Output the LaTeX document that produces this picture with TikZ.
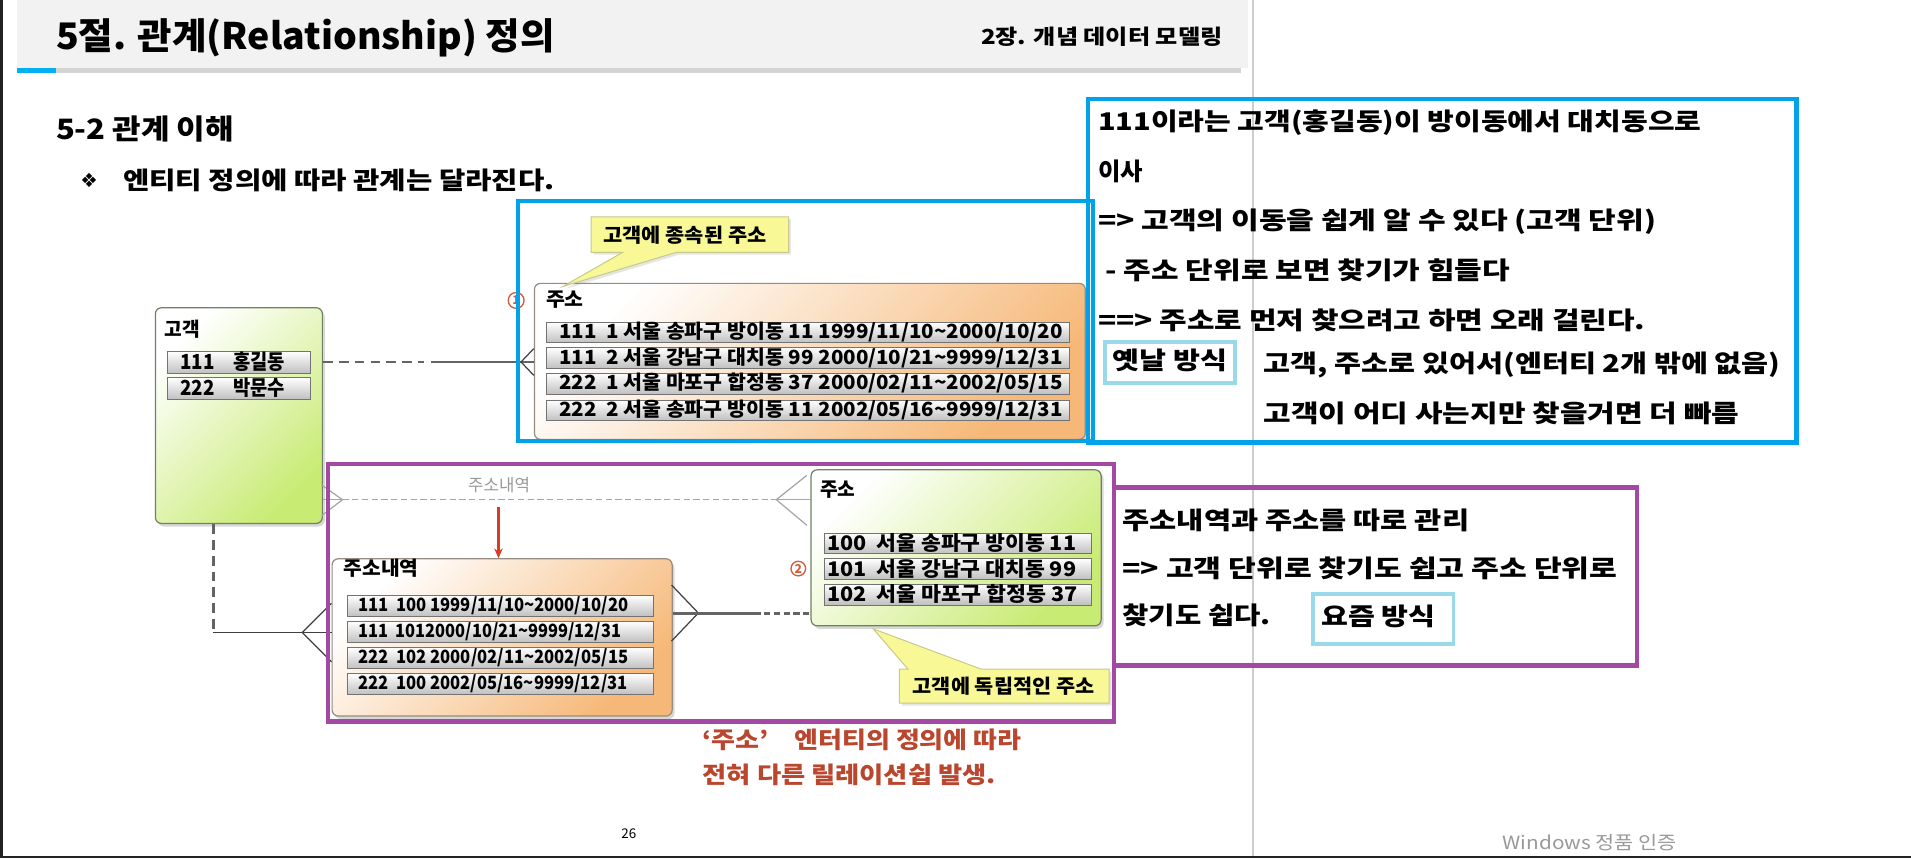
\documentclass[tikz,border=0pt]{standalone}
\usepackage{fontspec}
\usepackage{graphicx}
\setmainfont{Noto Sans CJK KR}
\newfontfamily\djv{DejaVu Sans}
\usetikzlibrary{shadows,arrows.meta}
\newcommand\fitw[2]{\resizebox{#1pt}{\height}{#2}}
\newcommand\fsz[1]{\fontsize{#1pt}{#1pt}\selectfont}
\definecolor{frameblue}{RGB}{0,162,232}
\definecolor{framepurple}{RGB}{163,73,164}
\definecolor{tagblue}{RGB}{153,217,234}
\definecolor{capred}{RGB}{185,70,45}
\definecolor{numred}{RGB}{215,90,60}
\definecolor{arrred}{RGB}{215,60,40}
\definecolor{greenfill}{RGB}{200,235,115}
\definecolor{greenline}{RGB}{110,130,100}
\definecolor{orangefill}{RGB}{246,184,120}
\definecolor{orangeline}{RGB}{150,140,130}
\definecolor{callfill}{RGB}{248,248,150}
\definecolor{callline}{RGB}{200,200,140}
\definecolor{headgray}{RGB}{242,242,242}
\definecolor{bargray}{RGB}{212,212,212}
\definecolor{barblue}{RGB}{0,176,240}
\definecolor{linkgray}{RGB}{100,100,100}
\definecolor{sepgray}{RGB}{205,205,205}
\definecolor{darkedge}{RGB}{34,34,34}
\begin{document}
\begin{tikzpicture}[x=1pt,y=-1pt,
  txt/.style={anchor=west,inner sep=0pt,outer sep=0pt},
  entbox/.style={draw=#1,line width=1pt,rounded corners=5pt,anchor=north west,inner sep=0pt,
     drop shadow={shadow xshift=2pt,shadow yshift=-2.5pt,opacity=0.25,fill=black!60}},
  greenent/.style={entbox=greenline,top color=white,bottom color=greenfill,shading angle=45},
  orangeent/.style={entbox=orangeline,top color=white,bottom color=orangefill,shading angle=45},
  rowbox/.style={draw=black!55,line width=0.7pt,top color=white,bottom color=black!25,anchor=north west,inner sep=0pt,minimum height=17pt},
  rowtxt/.style={txt,font=\bfseries\fsz{15}},
  lbl/.style={txt,font=\bfseries\fsz{16}},
  note/.style={txt,font=\bfseries\fsz{20}},
  frame/.style={line width=3.5pt},
  tag/.style={draw=tagblue,line width=3pt,anchor=north west,inner sep=0pt},
  calloutshape/.style={fill=callfill,draw=callline,line width=0.8pt,drop shadow={shadow xshift=2pt,shadow yshift=-2pt,opacity=0.2}},
  link/.style={draw=linkgray,line width=2.4pt},
  linkdash/.style={link,dash pattern=on 8pt off 5pt},
  foot/.style={draw=black!75,line width=1pt},
  faint/.style={draw=black!35,line width=1pt},
  circnum/.style={circle,draw=numred,line width=1.1pt,text=numred,inner sep=0pt,minimum size=#1,font=\bfseries\fsz{10}},
]
\useasboundingbox (0,0) rectangle (1568,704);
% page
\fill[white] (0,0) rectangle (1568,704);
\fill[headgray] (14,0) rectangle (1024,56);
\fill[barblue] (14,56) rectangle (46,60);
\fill[bargray] (46,56) rectangle (1018,60);
\draw[sepgray,line width=1.5pt] (1028,0) -- (1028,702);
\fill[darkedge] (0,0) rectangle (2.5,704);
\fill[darkedge] (0,702) rectangle (1568,704);

% header texts
\node[txt,font=\bfseries\fsz{30}] (title) at (46,31) {\fitw{409}{5절. 관계(Relationship) 정의}};
\node[txt,font=\bfseries\fsz{17}] (chap) at (805,30) {\fitw{198}{2장. 개념 데이터 모델링}};
\node[txt,font=\bfseries\fsz{23}] (sec) at (46,106) {\fitw{146}{5-2 관계 이해}};
\node[txt,font=\djv\fsz{16}] (bul) at (66,148) {❖};
\node[txt,font=\bfseries\fsz{20}] (sub) at (101,148) {\fitw{354}{엔티티 정의에 따라 관계는 달라진다.}};

% customer entity
\node[greenent,minimum width=137pt,minimum height=177pt] (cust) at (127,252) {};
\node[lbl] (custl) at (135,270) {\fitw{29}{고객}};
\node[rowbox,minimum width=117pt,minimum height=18pt] (cr1) at (137,288) {};
\node[rowbox,minimum width=117pt,minimum height=18pt] (cr2) at (137,309.5) {};
\node[rowtxt,font=\bfseries\fsz{17}] (ct1) at (148,297) {\fitw{86}{111\quad 홍길동}};
\node[rowtxt,font=\bfseries\fsz{17}] (ct2) at (148,318.5) {\fitw{86}{222\quad 박문수}};

% address entity (case 1)
\node[orangeent,minimum width=452pt,minimum height=128pt] (addr1) at (438,232) {};
\node[lbl] (addr1l) at (448,246) {\fitw{31}{주소}};
\node[rowbox,minimum width=429pt] (ar1) at (448,264) {};
\node[rowbox,minimum width=429pt] (ar2) at (448,285) {};
\node[rowbox,minimum width=429pt] (ar3) at (448,306) {};
\node[rowbox,minimum width=429pt] (ar4) at (448,328) {};
\node[rowtxt,font=\bfseries\fsz{16}] (at1) at (459,272.5) {\fitw{413}{111\ \ 1 서울 송파구 방이동 11 1999/11/10\textasciitilde 2000/10/20}};
\node[rowtxt,font=\bfseries\fsz{16}] (at2) at (459,293.5) {\fitw{413}{111\ \ 2 서울 강남구 대치동 99 2000/10/21\textasciitilde 9999/12/31}};
\node[rowtxt,font=\bfseries\fsz{16}] (at3) at (459,314.5) {\fitw{413}{222\ \ 1 서울 마포구 합정동 37 2000/02/11\textasciitilde 2002/05/15}};
\node[rowtxt,font=\bfseries\fsz{16}] (at4) at (459,336.5) {\fitw{413}{222\ \ 2 서울 송파구 방이동 11 2002/05/16\textasciitilde 9999/12/31}};
\node[circnum=13pt] (n1) at (423.5,246.5) {1};

% callout 1
\path[calloutshape] (485,178) -- (647,178) -- (647,207) -- (555,207) -- (462,235) -- (511,207) -- (485,207) -- cycle;
\node[lbl] (call1) at (495,193) {\fitw{134}{고객에 종속된 주소}};

% address history entity
\node[orangeent,minimum width=279pt,minimum height=129pt] (hist) at (272,458) {};
\node[lbl] (histlbl) at (282,466) {\fitw{61.5}{주소내역}};
\node[rowbox,minimum width=251.5pt,minimum height=17.5pt] (hr1) at (284.5,488) {};
\node[rowbox,minimum width=251.5pt,minimum height=17.5pt] (hr2) at (284.5,509.5) {};
\node[rowbox,minimum width=251.5pt,minimum height=17.5pt] (hr3) at (284.5,531) {};
\node[rowbox,minimum width=251.5pt,minimum height=17.5pt] (hr4) at (284.5,552) {};
\node[rowtxt] (ht1) at (294,497) {\fitw{221.5}{111\ \ 100 1999/11/10\textasciitilde 2000/10/20}};
\node[rowtxt] (ht2) at (294,518.5) {\fitw{215.6}{111\ \ 1012000/10/21\textasciitilde 9999/12/31}};
\node[rowtxt] (ht3) at (294,540) {\fitw{221.5}{222\ \ 102 2000/02/11\textasciitilde 2002/05/15}};
\node[rowtxt] (ht4) at (294,561) {\fitw{221}{222\ \ 100 2002/05/16\textasciitilde 9999/12/31}};

% address entity (case 2)
\node[greenent,minimum width=238pt,minimum height=128pt] (addr2) at (665,385) {};
\node[lbl] (addr2l) at (673,402) {\fitw{29}{주소}};
\node[rowbox,minimum width=219pt] (gr1) at (676,437) {};
\node[rowbox,minimum width=219pt] (gr2) at (676,458) {};
\node[rowbox,minimum width=219pt] (gr3) at (676,479) {};
\node[rowtxt,font=\bfseries\fsz{16.5}] (gt1) at (679,445.5) {\fitw{204}{100\ \ 서울 송파구 방이동 11}};
\node[rowtxt,font=\bfseries\fsz{16.5}] (gt2) at (679,466.5) {\fitw{204}{101\ \ 서울 강남구 대치동 99}};
\node[rowtxt,font=\bfseries\fsz{16.5}] (gt3) at (679,487.5) {\fitw{205}{102\ \ 서울 마포구 합정동 37}};
\node[circnum=12pt] (n2) at (655,466.5) {2};

% callout 2
\path[calloutshape] (738,549) -- (745,549) -- (716.5,516) -- (805,549) -- (910,549) -- (910,577) -- (738,577) -- cycle;
\node[lbl] (call2) at (749,563) {\fitw{149}{고객에 독립적인 주소}};

% connectors: customer - address (case 1)
\coordinate (k1a) at (264,297);
\coordinate (k1b) at (348,297);
\coordinate (k1c) at (354,297);
\coordinate (k1t) at (427.5,297);
\coordinate (k1u) at (438,286);
\coordinate (k1v) at (438,308);
\draw[linkdash] (cust.east |- k1a) -- (k1b);
\draw[link] (k1c) -- (addr1.west |- k1c);
\draw[foot] (k1u) -- (k1t) -- (k1v);

% faint relationship customer - address via history
\coordinate (g0) at (264,410);
\coordinate (g1) at (281,410);
\coordinate (g1u) at (264,398);
\coordinate (g1v) at (264,423);
\coordinate (g2) at (637,410);
\coordinate (g2u) at (662,390);
\coordinate (g2v) at (662,431);
\draw[faint,dash pattern=on 5pt off 3pt] (g1) -- (g2);
\draw[faint] (g1u) -- (g1) -- (g1v);
\draw[faint] (cust.east |- g0) -- (g1);
\draw[faint] (g2u) -- (g2) -- (g2v);
\draw[faint] (g2) -- (addr2.west |- g2);
\node[inner sep=0pt,font=\fsz{14},text=black!40] (histname) at (409.5,398) {\fitw{50.6}{주소내역}};
\coordinate (ra) at (409,416);
\draw[arrred,line width=1.8pt,-{Stealth[length=8pt,width=7pt]}] (ra) -- (ra |- hist.north);

% customer - history
\coordinate (k3a) at (175,429);
\coordinate (k3b) at (175,519);
\coordinate (k3t) at (248,519);
\coordinate (k3u) at (272,495);
\coordinate (k3v) at (272,543);
\draw[linkdash,line width=2.2pt] (k3a |- cust.south) -- (k3b);
\draw[foot] (k3b) -- (hist.west |- k3b);
\draw[foot] (k3u) -- (k3t) -- (k3v);

% history - address (case 2)
\coordinate (m0) at (551,503);
\coordinate (mt) at (573,503);
\coordinate (mu) at (551,480);
\coordinate (mv) at (551,526);
\coordinate (m1) at (619,503);
\draw[foot] (mu) -- (mt) -- (mv);
\draw[link] (hist.east |- m0) -- (m1);
\draw[link,dash pattern=on 5pt off 3pt] (m1) -- (addr2.west |- m1);

% frames
\draw[frameblue,frame] (425,165) rectangle (897,362);
\draw[frameblue,frame] (893,81) rectangle (1474,363);
\draw[framepurple,frame] (269,381) rectangle (914,592);
\draw[framepurple,frame] (914,400) rectangle (1343,546);

% notes (case 1)
\node[note] (l1) at (901,101) {\fitw{495}{111이라는 고객(홍길동)이 방이동에서 대치동으로}};
\node[note] (l2) at (901,141) {이사};
\node[note] (l3) at (901,182) {\fitw{458}{=> 고객의 이동을 쉽게 알 수 있다 (고객 단위)}};
\node[note] (l4) at (907,221.5) {\fitw{332}{- 주소 단위로 보면 찾기가 힘들다}};
\node[note] (l5) at (901,262.6) {\fitw{449}{==> 주소로 먼저 찾으려고 하면 오래 걸린다.}};
\node[tag,minimum width=107pt,minimum height=34pt] (oldbox) at (905,279) {};
\node[note] (oldtxt) at (913,296) {\fitw{94}{옛날 방식}};
\node[note] (l6) at (1037,299.5) {\fitw{424}{고객, 주소로 있어서(엔터티 2개 밖에 없음)}};
\node[note] (l7) at (1037,339) {\fitw{390}{고객이 어디 사는지만 찾을거면 더 빠름}};

% notes (case 2)
\node[note] (p1) at (921,427) {\fitw{284.5}{주소내역과 주소를 따로 관리}};
\node[note] (p2) at (921,466) {\fitw{406}{=> 고객 단위로 찾기도 쉽고 주소 단위로}};
\node[note] (p3) at (921,505) {\fitw{121.6}{찾기도 쉽다.}};
\node[tag,minimum width=115pt,minimum height=41pt] (newbox) at (1076,486) {};
\node[note] (newtxt) at (1084,506) {\fitw{93.8}{요즘 방식}};

% caption
\node[txt,font=\bfseries\fsz{19},text=capred] (cap1) at (576.5,607) {\fitw{261.6}{‘주소’\quad 엔터티의 정의에 따라}};
\node[txt,font=\bfseries\fsz{19},text=capred] (cap2) at (576.5,636) {\fitw{240.7}{전혀 다른 릴레이션쉽 발생.}};

% footer
\node[inner sep=0pt,font=\fsz{11}] (pg) at (516,684) {26};
\node[txt,font=\fsz{15},text=black!40] (win) at (1233,691) {\fitw{143}{Windows 정품 인증}};
\end{tikzpicture}
\end{document}
